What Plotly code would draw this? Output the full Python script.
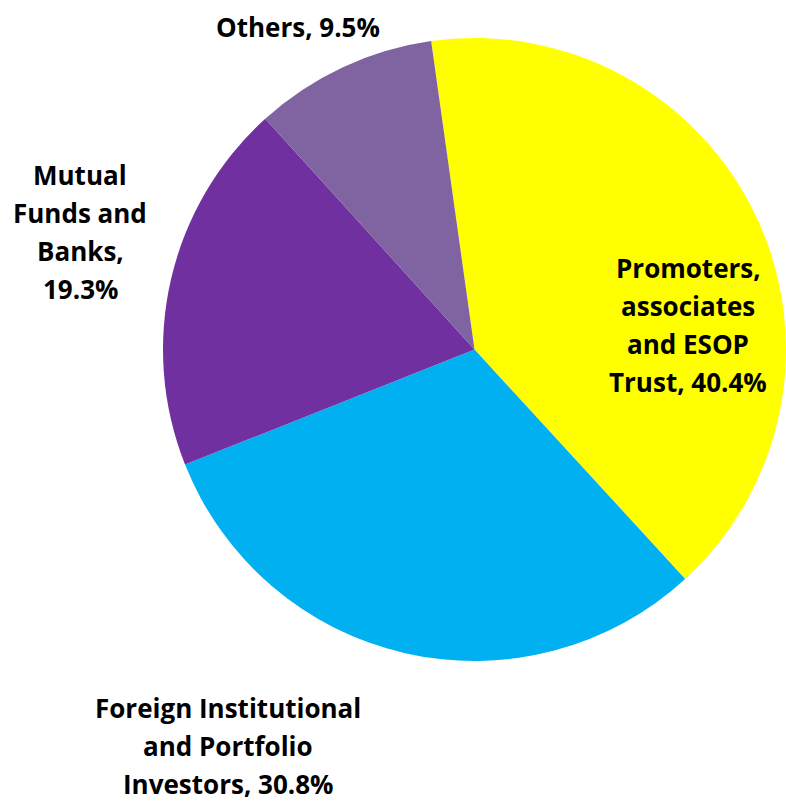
import plotly.graph_objects as go

# Shareholding pattern
categories = [
    "Promoters,<br>associates<br>and ESOP<br>Trust",
    "Foreign Institutional<br>and Portfolio<br>Investors",
    "Mutual<br>Funds and<br>Banks",
    "Others",
]
shares_pct = [40.4, 30.8, 19.3, 9.5]
slice_colors = ["#FFFF00", "#00B0F0", "#7030A0", "#8064A2"]

# label anchor (center x, first-line y) in pixels, and joiner before the value
label_anchor = [(688, 268), (228, 708), (80, 175), (298, 27)]
value_joiner = [", ", ", ", ",<br>", ", "]

W, H = 786, 802
LINE_H = 38.0

fig = go.Figure()
fig.add_trace(go.Pie(
    labels=[c.replace("<br>", " ") for c in categories],
    values=shares_pct,
    sort=False,
    direction="clockwise",
    rotation=-8,
    marker=dict(colors=slice_colors, line=dict(width=0)),
    textinfo="none",
    hoverinfo="label+percent",
    showlegend=False,
    domain=dict(x=[163 / W, 1.0], y=[(H - 663) / H, (H - 36) / H]),
))

annotations = []
for cat, val, joiner, (cx, y0) in zip(categories, shares_pct, value_joiner, label_anchor):
    text = f"{cat}{joiner}{val:.1f}%"
    for i, line in enumerate(text.split("<br>")):
        annotations.append(dict(
            x=cx / W, y=1 - (y0 + i * LINE_H) / H,
            xref="paper", yref="paper",
            text=line, showarrow=False, borderpad=0,
            xanchor="center", yanchor="middle",
            font=dict(family="Open Sans", size=26, color="#000000", weight="bold"),
        ))

fig.update_layout(
    width=W, height=H,
    margin=dict(l=0, r=0, t=0, b=0),
    paper_bgcolor="white",
    plot_bgcolor="white",
    annotations=annotations,
)

fig.write_html("out.html")
